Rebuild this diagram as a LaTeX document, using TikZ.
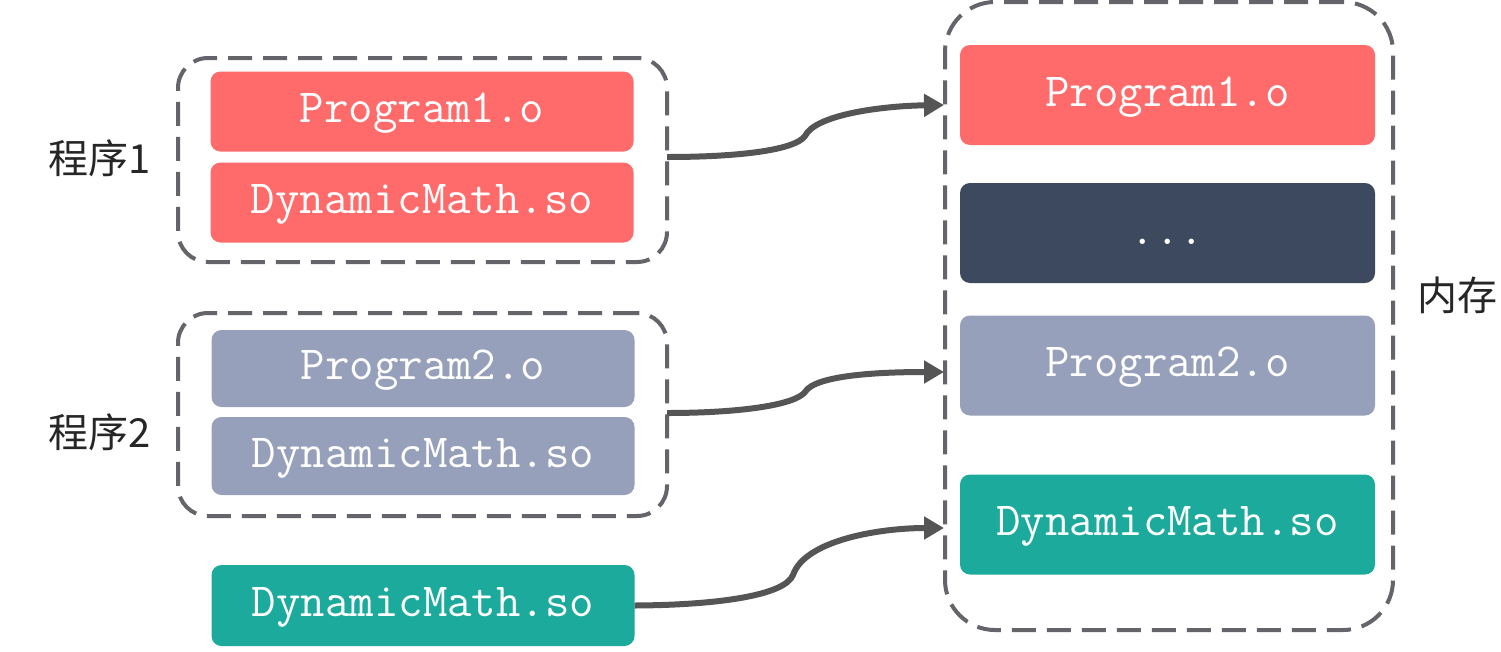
\documentclass[tikz,border=0pt]{standalone}
\usepackage{fontspec}
\newfontfamily\cjk{Noto Sans CJK SC}
\usetikzlibrary{arrows.meta}
\definecolor{cred}{RGB}{255,106,106}
\definecolor{cgrey}{RGB}{151,160,186}
\definecolor{cnavy}{RGB}{61,73,95}
\definecolor{cteal}{RGB}{27,170,155}
\definecolor{cdash}{RGB}{100,100,106}
\definecolor{carrow}{RGB}{85,85,85}
\tikzset{
  filebox/.style={rounded corners=10pt, inner sep=0pt, text=white,
    text height=31pt, text depth=9pt,
    font=\ttfamily\fontsize{47.5}{54}\selectfont},
  leftbox/.style={filebox, minimum width=423pt, minimum height=80pt},
  rightbox/.style={filebox, minimum width=415pt, minimum height=100pt},
  group/.style={draw=cdash, line width=4pt, dash pattern=on 24pt off 11pt,
    rounded corners=30pt, inner sep=0pt},
  lbl/.style={font=\cjk\fontsize{40}{46}\selectfont, text=black!85, inner sep=0pt},
  link/.style={draw=carrow, line width=6pt, -{Triangle[length=20pt,width=22pt]}}
}
\begin{document}
\begin{tikzpicture}[x=1pt,y=-1pt]
\useasboundingbox[fill=white] (0,0) rectangle (1501,651);
% left groups
\node[group, minimum width=489pt, minimum height=204pt] (g1) at (422.5,160) {};
\node[group, minimum width=489pt, minimum height=203pt] (g2) at (422.5,414.5) {};
\node[leftbox, fill=cred] (p1) at (422,111.5) {Program1.o};
\node[leftbox, fill=cred] (d1) at (422,202.5) {DynamicMath.so};
\node[leftbox, fill=cgrey, minimum height=77pt] (p2) at (423,368.5) {Program2.o};
\node[leftbox, fill=cgrey, minimum height=78pt] (d2) at (423,456) {DynamicMath.so};
\node[leftbox, fill=cteal, minimum height=81pt] (d3) at (423,605.5) {DynamicMath.so};
\node[lbl] (l1) at (100,158) {程序1};
\node[lbl] (l2) at (100,432) {程序2};
% memory
\node[group, rounded corners=50pt, minimum width=448pt, minimum height=628pt] (mem) at (1169,316) {};
\node[rightbox, fill=cred] (m1) at (1167.5,95) {Program1.o};
\node[rightbox, fill=cnavy] (m2) at (1167.5,233) {...};
\node[rightbox, fill=cgrey] (m3) at (1167.5,365.5) {Program2.o};
\node[rightbox, fill=cteal] (m4) at (1167.5,524.5) {DynamicMath.so};
\node[lbl] (l3) at (1457,295) {内存};
% arrows
\coordinate (e1) at (944,105);
\coordinate (e2) at (944,372);
\coordinate (e3) at (944,528);
\coordinate (s1) at (667,157);
\coordinate (s2) at (667,413);
\draw[link] (s1) .. controls (740,157) and (795,150) .. (805,136)
  .. controls (815,115) and (880,106) .. (e1);
\draw[link] (s2) .. controls (740,413) and (795,405) .. (805,392)
  .. controls (815,375) and (880,372) .. (e2);
\draw[link] (d3.east) .. controls (720,605) and (785,595) .. (793,575)
  .. controls (805,540) and (880,528) .. (e3);
\end{tikzpicture}
\end{document}
